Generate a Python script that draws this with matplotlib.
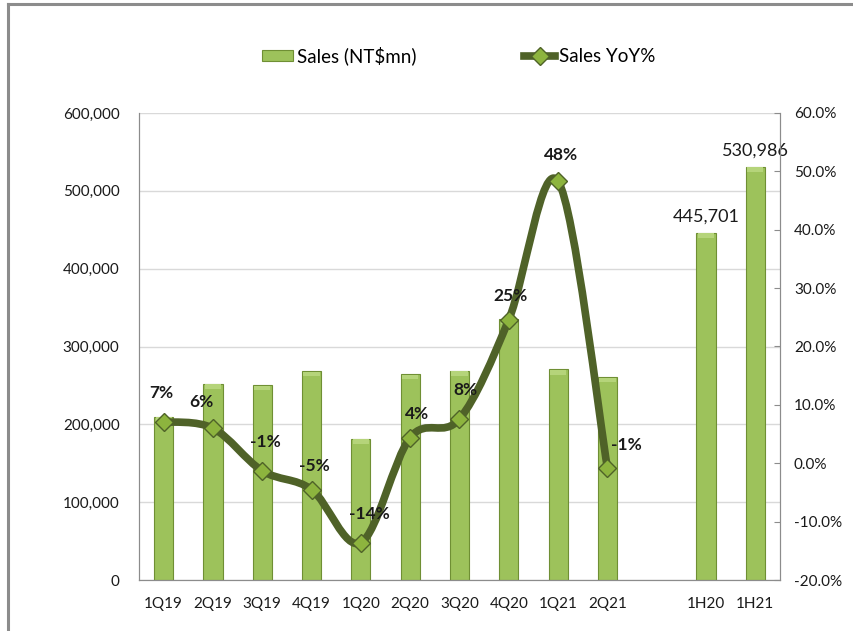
import matplotlib
matplotlib.use("Agg")
import matplotlib.pyplot as plt
from matplotlib.path import Path
from matplotlib.patches import PathPatch, Patch
from matplotlib.lines import Line2D
from matplotlib.ticker import FuncFormatter, MultipleLocator

plt.rcParams['font.family'] = ['Lato', 'DejaVu Sans']

# ---- data ----
categories = ['1Q19', '2Q19', '3Q19', '4Q19', '1Q20', '2Q20', '3Q20', '4Q20', '1Q21', '2Q21', '', '1H20', '1H21']
sales = [210000, 252000, 250000, 268000, 181500, 264200, 269000, 335000, 270500, 260500, None, 445701, 530986]
yoy_labels = ['1Q19', '2Q19', '3Q19', '4Q19', '1Q20', '2Q20', '3Q20', '4Q20', '1Q21', '2Q21']
yoy = [7.1, 6.0, -1.3, -4.5, -13.6, 4.4, 7.6, 24.6, 48.3, -0.8]
yoy_text = ['7%', '6%', '-1%', '-5%', '-14%', '4%', '8%', '25%', '48%', '-1%']
half_labels = ['1H20', '1H21']

# ---- styling ----
bar_face = '#9DC25B'
bar_edge = '#6F8F34'
line_col = '#4F6228'
marker_face = '#8DB43E'
grid_col = '#D9D9D9'
spine_col = '#8C8C8C'
text_col = '#1A1A1A'
label_offsets = [(-2, 15), (-8, 13), (2, 15), (2, 11), (6, 15), (5, 11), (4, 15), (1, 11), (2, 13), (14, 11)]

fig = plt.figure(figsize=(8.54, 6.31), dpi=100)
ax = fig.add_axes([139/854, 1-580/631, 641/854, 467/631])
ax2 = ax.twinx()

xpos = list(range(len(categories)))
bx = [x for x, v in zip(xpos, sales) if v is not None]
bv = [v for v in sales if v is not None]
ax.bar(bx, bv, width=0.39, color=bar_face, edgecolor=bar_edge, linewidth=0.8, zorder=2)
# subtle bevel on top of bars
ax.bar(bx, [6000 for v in bv], bottom=[v - 6500 for v in bv], width=0.33,
       color='#B5D47A', edgecolor='none', zorder=3)

ax.set_xlim(-0.5, len(categories) - 0.5)
ax.set_ylim(0, 600000)
ax.yaxis.set_major_locator(MultipleLocator(100000))
ax.yaxis.set_major_formatter(FuncFormatter(lambda v, p: f'{int(v):,}'))
ax.set_xticks(xpos)
ax.set_xticklabels(categories)
ax.tick_params(axis='both', length=0, labelsize=11, colors=text_col, pad=12)
ax.tick_params(axis='y', pad=14)
ax.grid(axis='y', color=grid_col, linewidth=1.0, zorder=0)
ax.set_axisbelow(True)
for s in ['left', 'bottom', 'right']:
    ax.spines[s].set_color(spine_col)
ax.spines['top'].set_visible(False)

# data labels for half-year bars
for lab in half_labels:
    i = categories.index(lab)
    ax.annotate(f'{sales[i]:,}', (i, sales[i]), xytext=(0, 6), textcoords='offset points',
                ha='center', va='bottom', fontsize=13, color=text_col)

# smoothed YoY line (Bezier through points)
pts = [(categories.index(c), v) for c, v in zip(yoy_labels, yoy)]
verts = [pts[0]]
codes = [Path.MOVETO]
n = len(pts)
for i in range(n - 1):
    p0 = pts[i - 1] if i > 0 else pts[i]
    p1 = pts[i]
    p2 = pts[i + 1]
    p3 = pts[i + 2] if i + 2 < n else pts[i + 1]
    c1 = (p1[0] + (p2[0] - p0[0]) / 6, p1[1] + (p2[1] - p0[1]) / 6)
    c2 = (p2[0] - (p3[0] - p1[0]) / 6, p2[1] - (p3[1] - p1[1]) / 6)
    verts += [c1, c2, p2]
    codes += [Path.CURVE4, Path.CURVE4, Path.CURVE4]
ax2.add_patch(PathPatch(Path(verts, codes), facecolor='none', edgecolor=line_col,
                        linewidth=5.5, capstyle='round', joinstyle='round', zorder=3))
ax2.plot([p[0] for p in pts], [p[1] for p in pts], linestyle='none', marker='D',
         markersize=9, markerfacecolor=marker_face, markeredgecolor=line_col,
         markeredgewidth=1.0, zorder=4)
for (x, y), t, off in zip(pts, yoy_text, label_offsets):
    ax2.annotate(t, (x, y), xytext=off, textcoords='offset points', ha='center',
                 va='bottom', fontsize=12.5, fontweight='bold', color=text_col)

ax2.set_ylim(-20, 60)
ax2.yaxis.set_major_locator(MultipleLocator(10))
ax2.yaxis.set_major_formatter(FuncFormatter(lambda v, p: f'{v:.1f}%'))
ax2.tick_params(axis='y', direction='in', length=4, color=spine_col, labelsize=11,
                colors=text_col, pad=10)
ax2.tick_params(axis='y', color=spine_col)
for s in ['left', 'bottom', 'right']:
    ax2.spines[s].set_color(spine_col)
ax2.spines['top'].set_visible(False)
ax2.set_xlim(-0.5, len(categories) - 0.5)

# legend
handles = [Patch(facecolor=bar_face, edgecolor=bar_edge, linewidth=0.8),
           Line2D([0], [0], color=line_col, linewidth=5.5, marker='D', markersize=9,
                  markerfacecolor=marker_face, markeredgecolor=line_col)]
fig.legend(handles, ['Sales (NT$mn)', 'Sales YoY%'], loc='center', ncol=2,
           bbox_to_anchor=(0.537, 0.912), frameon=False, fontsize=13.5,
           handlelength=1.7, handletextpad=0.2, columnspacing=5.7, handleheight=0.55)

# outer frame
fig.add_artist(Line2D([8/854, 8/854], [0, 1-4/631], color='#8C8C8C', linewidth=2.2,
                      transform=fig.transFigure))
fig.add_artist(Line2D([8/854, 1], [1-4/631, 1-4/631], color='#8C8C8C', linewidth=2.2,
                      transform=fig.transFigure))

fig.savefig('out.png', dpi=100)
